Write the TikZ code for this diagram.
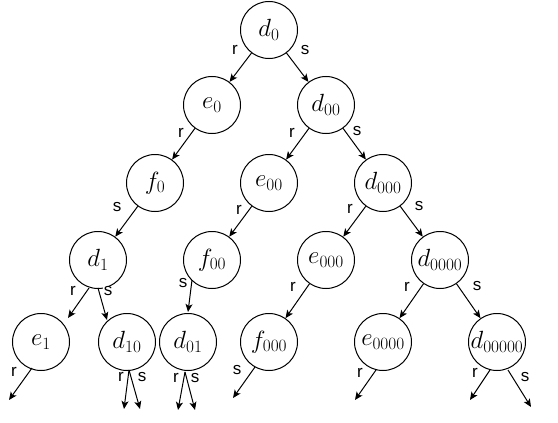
\documentclass[tikz,border=0pt]{standalone}
\usepackage{fontspec}
\newfontfamily\labfont{Liberation Sans}
\usetikzlibrary{arrows.meta,calc}
\begin{document}
\begin{tikzpicture}[x=1pt,y=-1pt,
  st/.style={circle,draw,line width=1pt,minimum size=57pt,inner sep=0pt,font=\fontsize{23}{27}\selectfont},
  arr/.style={line width=1pt,-{Stealth[length=8pt,width=7pt,inset=2pt]}},
  lab/.style={font=\labfont\fontsize{17}{19}\selectfont,fill=white,inner sep=0.5pt}]
\useasboundingbox (0,0) rectangle (558,423);
% nodes
\node[st] (d0) at (269,30) {$d_0$};
\node[st] (e0) at (212,105) {$e_0$};
\node[st] (d00) at (326,105) {$d_{00}$};
\node[st] (f0) at (155,183) {$f_0$};
\node[st] (e00) at (269,183) {$e_{00}$};
\node[st] (d000) at (383,183) {$d_{000}$};
\node[st] (d1) at (98,260) {$d_1$};
\node[st] (f00) at (212,260) {$f_{00}$};
\node[st] (e000) at (326,260) {$e_{000}$};
\node[st] (d0000) at (440,260) {$d_{0000}$};
\node[st] (e1) at (41,342) {$e_1$};
\node[st] (d10) at (127,342) {$d_{10}$};
\node[st] (d01) at (188,342) {$d_{01}$};
\node[st] (f000) at (269,342) {$f_{000}$};
\node[st] (e0000) at (383,342) {$e_{0000}$};
\node[st] (d00000) at (497,342) {$d_{00000}$};
% free ends
\coordinate (e1r) at (9,400);
\coordinate (d10r) at (124,409);
\coordinate (d10s) at (140,409);
\coordinate (d01r) at (178,410);
\coordinate (d01s) at (195,410);
\coordinate (f000s) at (233,398);
\coordinate (e0000r) at (355,400);
\coordinate (d00000r) at (470,400);
\coordinate (d00000s) at (531,407);
% edges
\draw[arr] (d0) -- (e0);
\draw[arr] (d0) -- (d00);
\draw[arr] (e0) -- (f0);
\draw[arr] (d00) -- (e00);
\draw[arr] (d00) -- (d000);
\draw[arr] (f0) -- (d1);
\draw[arr] (e00) -- (f00);
\draw[arr] (d000) -- (e000);
\draw[arr] (d000) -- (d0000);
\draw[arr] ($(d1)+(-9,28)$) -- ($(e1)+(27,-24)$);
\draw[arr] ($(d1)+(0,28)$) -- ($(d10)+(-20,-22)$);
\draw[arr] ($(f00)+(-20,20)$) -- ($(d01)+(0,-30)$);
\draw[arr] (e000) -- (f000);
\draw[arr] (d0000) -- (e0000);
\draw[arr] (d0000) -- (d00000);
\draw[arr] ($(e1)+(-9,26)$) -- (e1r);
\draw[arr] ($(d10)+(2,28)$) -- (d10r);
\draw[arr] ($(d10)+(2,28)$) -- (d10s);
\draw[arr] ($(d01)+(-3,30)$) -- (d01r);
\draw[arr] ($(d01)+(-3,30)$) -- (d01s);
\draw[arr] ($(f000)+(-14,25)$) -- (f000s);
\draw[arr] ($(e0000)+(-7,28)$) -- (e0000r);
\draw[arr] ($(d00000)+(-7,28)$) -- (d00000r);
\draw[arr] ($(d00000)+(11,28)$) -- (d00000s);
% labels
\node[lab] (l1) at (235,50) {r};
\node[lab] (l2) at (305,50) {s};
\node[lab] (l3) at (181,133) {r};
\node[lab] (l4) at (292,133) {r};
\node[lab] (l5) at (357,131) {s};
\node[lab] (l6) at (117,207) {s};
\node[lab] (l7) at (239,210) {r};
\node[lab] (l8) at (350,209) {r};
\node[lab] (l9) at (419,206) {s};
\node[lab] (l10) at (73,291) {r};
\node[lab] (l11) at (108,291) {s};
\node[lab] (l12) at (183,283) {s};
\node[lab] (l13) at (293,287) {r};
\node[lab] (l14) at (407,287) {r};
\node[lab] (l15) at (477,286) {s};
\node[lab] (l16) at (14,372) {r};
\node[lab] (l17) at (121,377) {r};
\node[lab] (l18) at (142,377) {s};
\node[lab] (l19) at (176,378) {r};
\node[lab] (l20) at (195,378) {s};
\node[lab] (l21) at (237,370) {s};
\node[lab] (l22) at (360,373) {r};
\node[lab] (l23) at (475,373) {r};
\node[lab] (l24) at (525,377) {s};
\end{tikzpicture}
\end{document}
